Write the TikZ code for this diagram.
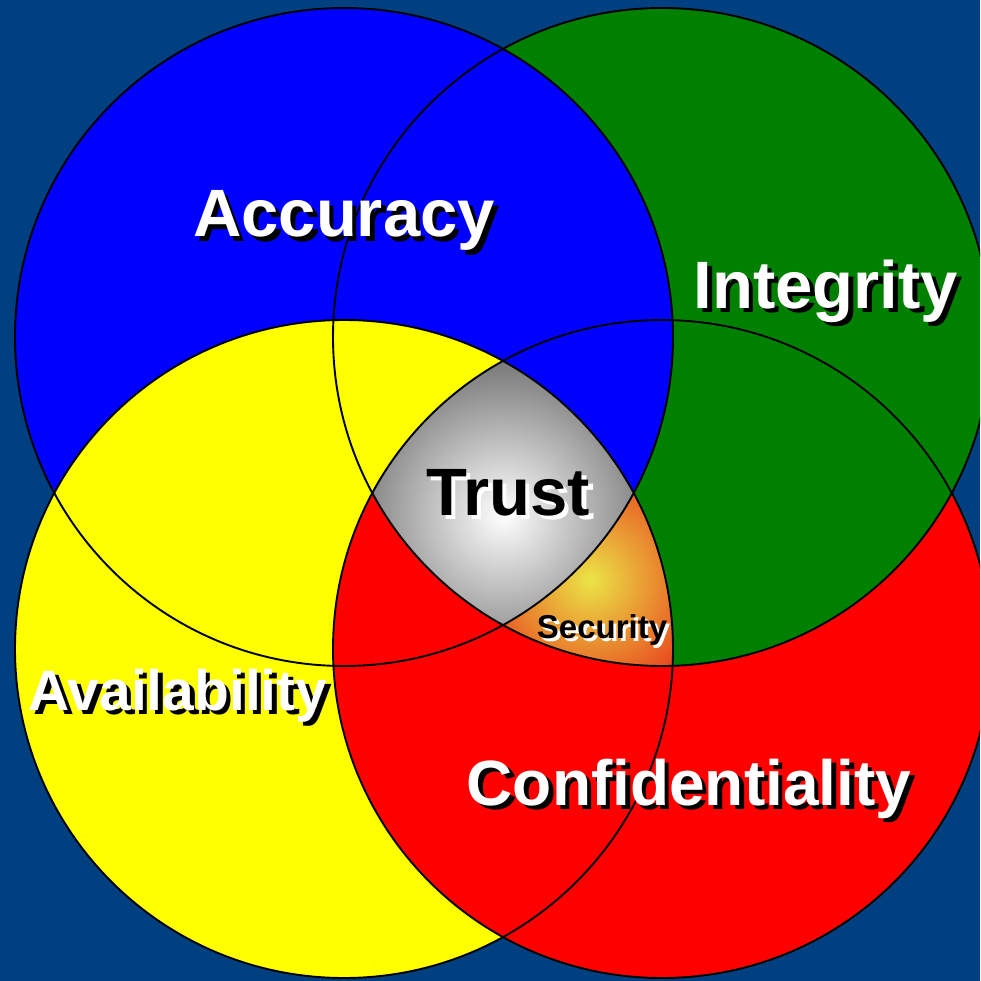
\documentclass[tikz,border=0pt]{standalone}
\usepackage{fontspec}
\setmainfont{Liberation Sans}
\definecolor{bgblue}{RGB}{0,64,128}
\definecolor{accblue}{RGB}{0,0,255}
\definecolor{intgreen}{RGB}{0,128,0}
\definecolor{avyellow}{RGB}{255,255,0}
\definecolor{confred}{RGB}{255,0,0}
\definecolor{trustgray}{RGB}{115,115,115}
\definecolor{secyellow}{RGB}{235,228,70}
\definecolor{secorange}{RGB}{232,62,28}
\newcommand\ringradius{329}
\tikzset{
  ring/.style={draw=black, line width=1.9pt},
  bigword/.style={font=\bfseries\fontsize{67}{70}\selectfont, inner sep=0pt, anchor=base},
  midword/.style={font=\bfseries\fontsize{57}{60}\selectfont, inner sep=0pt, anchor=base},
  smallword/.style={font=\bfseries\fontsize{33}{36}\selectfont, inner sep=0pt, anchor=base},
  back/.style={xshift=4.5pt, yshift=-4.5pt}
}

\begin{document}
\begin{tikzpicture}[x=1pt, y=-1pt]
  \useasboundingbox (0,0) rectangle (980,981);
  \fill[bgblue] (0,0) rectangle (980,981);
  \clip (0,0) rectangle (980,981);
  \coordinate (B) at (344,337);
  \coordinate (G) at (662,337);
  \coordinate (Y) at (344,649);
  \coordinate (R) at (662,649);
  \coordinate (T) at (503,515);
  \coordinate (S) at (590,580);
  % the four circles
  \fill[confred] (R) circle[radius=\ringradius];
  \fill[intgreen] (G) circle[radius=\ringradius];
  \fill[accblue] (B) circle[radius=\ringradius];
  \fill[avyellow] (Y) circle[radius=\ringradius];
  % red lies over yellow outside green
  \begin{scope}[even odd rule]
    \clip (Y) circle[radius=\ringradius];
    \clip (R) circle[radius=\ringradius];
    \clip (-20,-20) rectangle (1000,1000) (G) circle[radius=\ringradius];
    \fill[confred] (-20,-20) rectangle (1000,1000);
  \end{scope}
  % security
  \begin{scope}[even odd rule]
    \clip (G) circle[radius=\ringradius];
    \clip (Y) circle[radius=\ringradius];
    \clip (R) circle[radius=\ringradius];
    \clip (-20,-20) rectangle (1000,1000) (B) circle[radius=\ringradius];
    \shade[inner color=secyellow, outer color=secorange] (S) circle[radius=125];
  \end{scope}
  % trust
  \begin{scope}
    \clip (B) circle[radius=\ringradius];
    \clip (G) circle[radius=\ringradius];
    \clip (Y) circle[radius=\ringradius];
    \clip (R) circle[radius=\ringradius];
    \shade[inner color=white, outer color=trustgray] (T) circle[radius=160];
  \end{scope}
  \foreach \c in {B,G,Y,R}
    \draw[ring] (\c) circle[radius=\ringradius];
  % labels
  \node[bigword, back, text=black] (accuracy-back) at (344,237) {Accuracy};
  \node[bigword, text=white] (accuracy) at (344,237) {Accuracy};
  \node[bigword, back, text=black] (integrity-back) at (826,308) {Integrity};
  \node[bigword, text=white] (integrity) at (826,308) {Integrity};
  \node[midword, back, text=black] (availability-back) at (178,710) {Availability};
  \node[midword, text=white] (availability) at (178,710) {Availability};
  \node[bigword, back, font=\bfseries\fontsize{64}{68}\selectfont, text=black] (confidentiality-back) at (689,805) {Confidentiality};
  \node[bigword, font=\bfseries\fontsize{64}{68}\selectfont, text=white] (confidentiality) at (689,805) {Confidentiality};
  \node[bigword, back, text=white] (trust-back) at (508,515) {Trust};
  \node[bigword, text=black] (trust) at (508,515) {Trust};
  \node[smallword, back, xshift=-1.5pt, yshift=1.5pt, text=white] (security-back) at (602,638) {Security};
  \node[smallword, text=black] (security) at (602,638) {Security};
\end{tikzpicture}
\end{document}
